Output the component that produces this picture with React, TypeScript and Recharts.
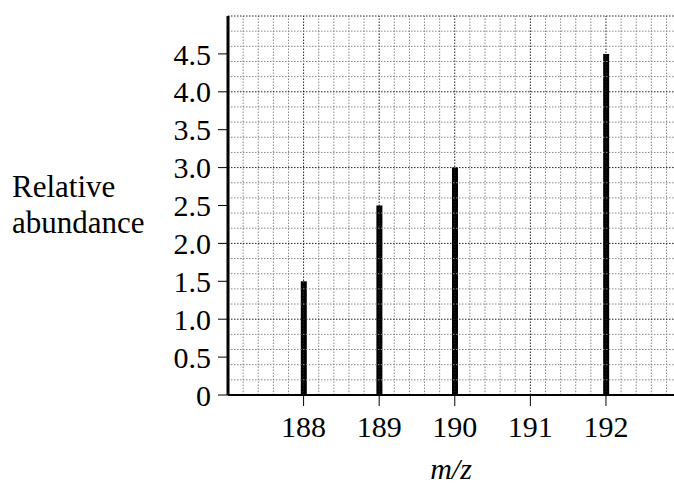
import { Bar, ComposedChart, ReferenceLine, XAxis, YAxis, Label } from "recharts";

const masses = [188, 189, 190, 191, 192];
const abundance = [1.5, 2.5, 3.0, 0, 4.5];
const xTicks = [188, 189, 190, 191, 192];
const yTicks = [0, 0.5, 1.0, 1.5, 2.0, 2.5, 3.0, 3.5, 4.0, 4.5];

const data = masses.map((m, i) => ({ mz: m, value: abundance[i] }));

// grid every 0.2, darker on whole numbers
const xGrid = Array.from({ length: 29 }, (_, i) => Math.round((187.2 + i * 0.2) * 10) / 10);
const yGrid = Array.from({ length: 25 }, (_, i) => Math.round((i + 1) * 2) / 10);

const FONT = "'Liberation Serif', 'Times New Roman', serif";
const TICK = { fill: "#000", fontSize: 30, fontFamily: FONT } as const;

function YTitle() {
  return (
    <text fontFamily={FONT} fontSize={31} fill="#000">
      <tspan x={12} y={197}>Relative</tspan>
      <tspan x={12} y={233}>abundance</tspan>
    </text>
  );
}

export default function App() {
  return (
    <div style={{ position: "absolute", left: 0, top: 0, width: 674, height: 484, background: "#fff" }}>
      <ComposedChart width={674} height={484} data={data} margin={{ top: 16, right: 0, left: 0, bottom: 0 }}>
        {xGrid.map((v) => {
          const major = Number.isInteger(v);
          return (
            <ReferenceLine
              key={"x" + v}
              x={v}
              stroke={major ? "#222" : "#888"}
              strokeDasharray="1.5 1.5"
              strokeWidth={1}
            />
          );
        })}
        {yGrid.map((v) => {
          const major = Number.isInteger(v);
          return (
            <ReferenceLine
              key={"y" + v}
              y={v}
              stroke={major ? "#222" : "#888"}
              strokeDasharray="1.5 1.5"
              strokeWidth={1}
            />
          );
        })}
        <XAxis
          dataKey="mz"
          type="number"
          domain={[187, 192.9]}
          ticks={xTicks}
          interval={0}
          allowDataOverflow
          tick={TICK}
          tickSize={11}
          tickMargin={10}
          height={89}
          stroke="#000"
          axisLine={{ stroke: "#000", strokeWidth: 2 }}
          tickLine={{ stroke: "#000", strokeWidth: 1 }}
        >
          <Label
            value="m/z"
            position="insideBottom"
            offset={5}
            style={{ fontFamily: FONT, fontSize: 30, fontStyle: "italic", fill: "#000" }}
          />
        </XAxis>
        <YAxis
          type="number"
          domain={[0, 5]}
          ticks={yTicks}
          interval={0}
          allowDataOverflow
          width={228}
          tick={TICK}
          tickSize={10}
          tickMargin={7}
          tickFormatter={(v: number) => (v === 0 ? "0" : v.toFixed(1))}
          axisLine={{ stroke: "#000", strokeWidth: 3 }}
          tickLine={{ stroke: "#000", strokeWidth: 1 }}
          label={<YTitle />}
        />
        <Bar dataKey="value" fill="#000" barSize={6} isAnimationActive={false} />
      </ComposedChart>
    </div>
  );
}
